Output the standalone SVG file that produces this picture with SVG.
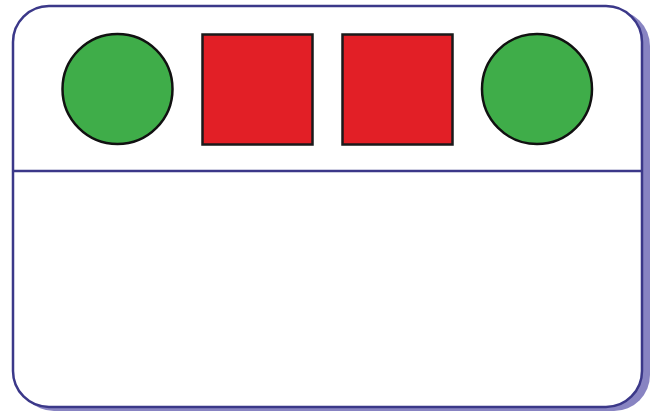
<svg xmlns="http://www.w3.org/2000/svg" width="656" height="414" viewBox="0 0 656 414">
<style>
.frame{fill:#ffffff;stroke:#3b3889;stroke-width:2.5}
.shadow{fill:#8884c2;stroke:none}
.circ{fill:#3fad49;stroke:#111111;stroke-width:2.5}
.sq{fill:#e21f26;stroke:#1a1a1a;stroke-width:2.5}
.div{stroke:#3b3889;stroke-width:2.5;fill:none}
</style>
<g id="frame">
<rect class="shadow" x="18" y="10" width="632" height="401" rx="36" ry="36"/>
<rect class="frame" x="13" y="6" width="629" height="401" rx="36" ry="36"/>
</g>
<g id="connectors">
<line class="div" x1="13" y1="171" x2="642" y2="171"/>
</g>
<g id="circle1"><circle class="circ" cx="117.5" cy="89" r="55"/></g>
<g id="square1"><rect class="sq" x="202.5" y="34.5" width="110" height="110"/></g>
<g id="square2"><rect class="sq" x="342.5" y="34.5" width="110" height="110"/></g>
<g id="circle2"><circle class="circ" cx="537" cy="89" r="55"/></g>
</svg>
